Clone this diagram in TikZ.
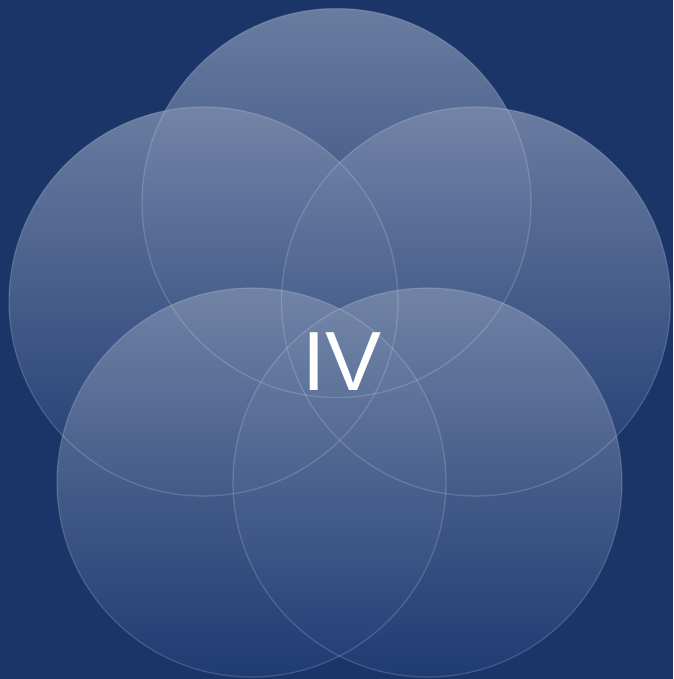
\documentclass[tikz,border=0pt]{standalone}
\usepackage{fontspec}
\setmainfont{Liberation Sans}
\definecolor{bgblue}{HTML}{1B3568}
\definecolor{petaltop}{HTML}{7889AA}
\definecolor{petalbot}{HTML}{213D76}
\tikzset{
  petal/.style={circle, minimum size=389pt, inner sep=0pt, top color=petaltop, bottom color=petalbot, fill opacity=0.85},
  rim/.style={draw=white, draw opacity=0.16, line width=1.3pt},
}
\begin{document}
\begin{tikzpicture}[x=1pt,y=1pt]
\fill[bgblue] (0,0) rectangle (673,679);
\useasboundingbox (0,0) rectangle (673,679);
\node[petal] (c1) at (336.5,476) {};
\node[petal] (c2) at (203.5,377.5) {};
\node[petal] (c3) at (476,377.5) {};
\node[petal] (c4) at (251.5,196.5) {};
\node[petal] (c5) at (427.5,196.5) {};
\foreach \c in {c1,c2,c3,c4,c5}{
  \draw[rim] (\c) circle (194.5pt);
}
\node[text=white, font=\fontsize{84}{84}\selectfont, inner sep=0pt] (label) at (342,317.5) {IV};
\end{tikzpicture}
\end{document}
